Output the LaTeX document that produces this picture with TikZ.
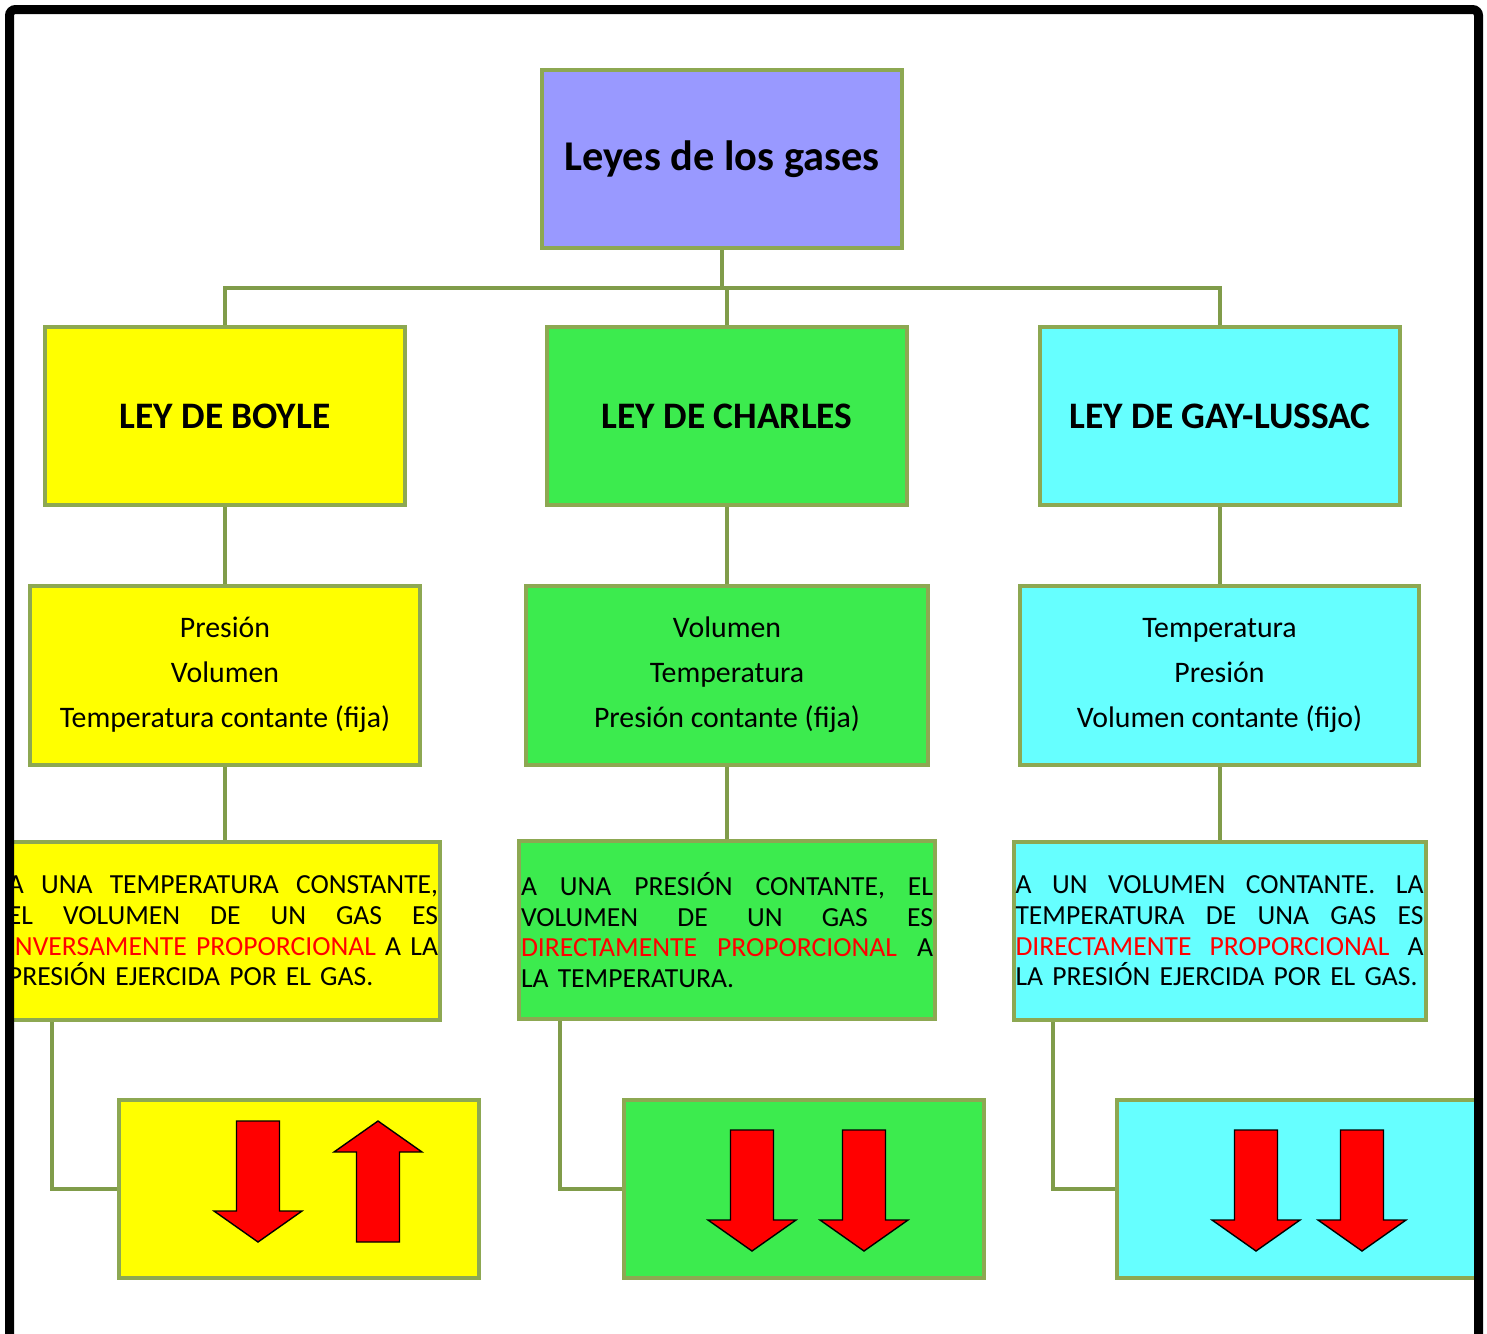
\documentclass[tikz,border=0pt]{standalone}
\usepackage{fontspec}
\setmainfont{Carlito}
\usepackage{xcolor}

\definecolor{lila}{HTML}{9999FF}
\definecolor{amarillo}{HTML}{FFFF00}
\definecolor{verde}{HTML}{3CEB4E}
\definecolor{celeste}{HTML}{66FFFF}
\definecolor{borde}{HTML}{8DA852}
\definecolor{linea}{HTML}{809C4A}

\newcommand\renglon[1]{\leavevmode\hbox to \hsize{\spaceskip=0.25em plus 1fil #1}}

\tikzset{
  caja/.style={draw=borde, line width=2pt, align=center, inner sep=1pt},
  titulo/.style={caja, minimum width=180pt, minimum height=89pt, font=\bfseries\fontsize{18.7}{22}\selectfont},
  lista/.style={caja, minimum height=89.5pt, font=\fontsize{14.9}{22.5}\selectfont},
  texto/.style={caja, minimum height=89pt, align=left, font=\fontsize{13.8}{15.3}\selectfont},
  dibujo/.style={caja, minimum width=180pt, minimum height=89pt},
  enlace/.style={draw=linea, line width=2pt},
  flecha/.style={fill=red, draw=black, line width=0.7pt},
  downarrow/.pic={\path[flecha] (-21.5,-121) -- (21.5,-121) -- (21.5,-31) -- (44,-31) -- (0,0) -- (-44,-31) -- (-21.5,-31) -- cycle;}
}

\begin{document}
\begin{tikzpicture}[x=0.5pt,y=-0.5pt]
\useasboundingbox (0,0) rectangle (1487,1333);
\begin{scope}
\clip (9.5,9.5) rectangle (1478.5,1345);
% nodos
\node[caja, fill=lila, minimum width=180pt, minimum height=89pt, font=\bfseries\fontsize{21.2}{24}\selectfont] (raiz) at (722,159) {Leyes de los gases};

\node[titulo, fill=amarillo] (boyle) at (225,416) {LEY DE BOYLE};
\node[titulo, fill=verde] (charles) at (727,416) {LEY DE CHARLES};
\node[titulo, fill=celeste] (gay) at (1220,416) {LEY DE GAY-LUSSAC};

\node[lista, fill=amarillo, minimum width=195pt] (boyle2) at (225,675) {Presión\\Volumen\\Temperatura contante (fija)};
\node[lista, fill=verde, minimum width=201pt] (charles2) at (727,675) {Volumen\\Temperatura\\Presión contante (fija)};
\node[lista, fill=celeste, minimum width=199.5pt] (gay2) at (1219.5,675) {Temperatura\\Presión\\Volumen contante (fijo)};

\node[texto, fill=amarillo, text width=215pt] (boyle3) at (223,931) {%
\renglon{A UNA TEMPERATURA CONSTANTE,}\\
\renglon{EL VOLUMEN DE UN GAS ES}\\
\renglon{\textcolor{red}{INVERSAMENTE PROPORCIONAL} A LA}\\
PRESIÓN EJERCIDA POR EL GAS.};
\node[texto, fill=verde, text width=206pt] (charles3) at (727,930) {%
\renglon{A UNA PRESIÓN CONTANTE, EL}\\
\renglon{VOLUMEN DE UN GAS ES}\\
\renglon{\textcolor{red}{DIRECTAMENTE PROPORCIONAL} A}\\
LA TEMPERATURA.};
\node[texto, fill=celeste, text width=204pt] (gay3) at (1219.5,931) {%
\renglon{A UN VOLUMEN CONTANTE. LA}\\
\renglon{TEMPERATURA DE UNA GAS ES}\\
\renglon{\textcolor{red}{DIRECTAMENTE PROPORCIONAL} A}\\
LA PRESIÓN EJERCIDA POR EL GAS.};

\node[dibujo, fill=amarillo] (boyle4) at (299,1189) {};
\node[dibujo, fill=verde] (charles4) at (804,1189) {};
\node[dibujo, fill=celeste] (gay4) at (1297,1189) {};

% conectores
\foreach \c in {boyle,charles,gay}{
  \draw[enlace] (raiz.south) -- ++(0,38) -| (\c.north);
  \draw[enlace] (\c.south) -- (\c.south |- \c2.north);
  \draw[enlace] (\c2.south) -- (\c2.south |- \c3.north);
}
\foreach \c/\d in {boyle/48,charles/43,gay/41}{
  \draw[enlace] (\c3.south west) ++(\d,0) |- (\c4.west);
}

% flechas
\pic at (258,1242) {downarrow};
\pic[rotate=180] at (378,1121) {downarrow};
\pic at (752,1251) {downarrow};
\pic at (864,1251) {downarrow};
\pic at (1256,1251) {downarrow};
\pic at (1362,1251) {downarrow};
\end{scope}

% marco
\draw[line width=4.5pt, rounded corners=3pt] (9.5,1345) -- (9.5,9.5) -- (1478.5,9.5) -- (1478.5,1345);
\end{tikzpicture}
\end{document}
